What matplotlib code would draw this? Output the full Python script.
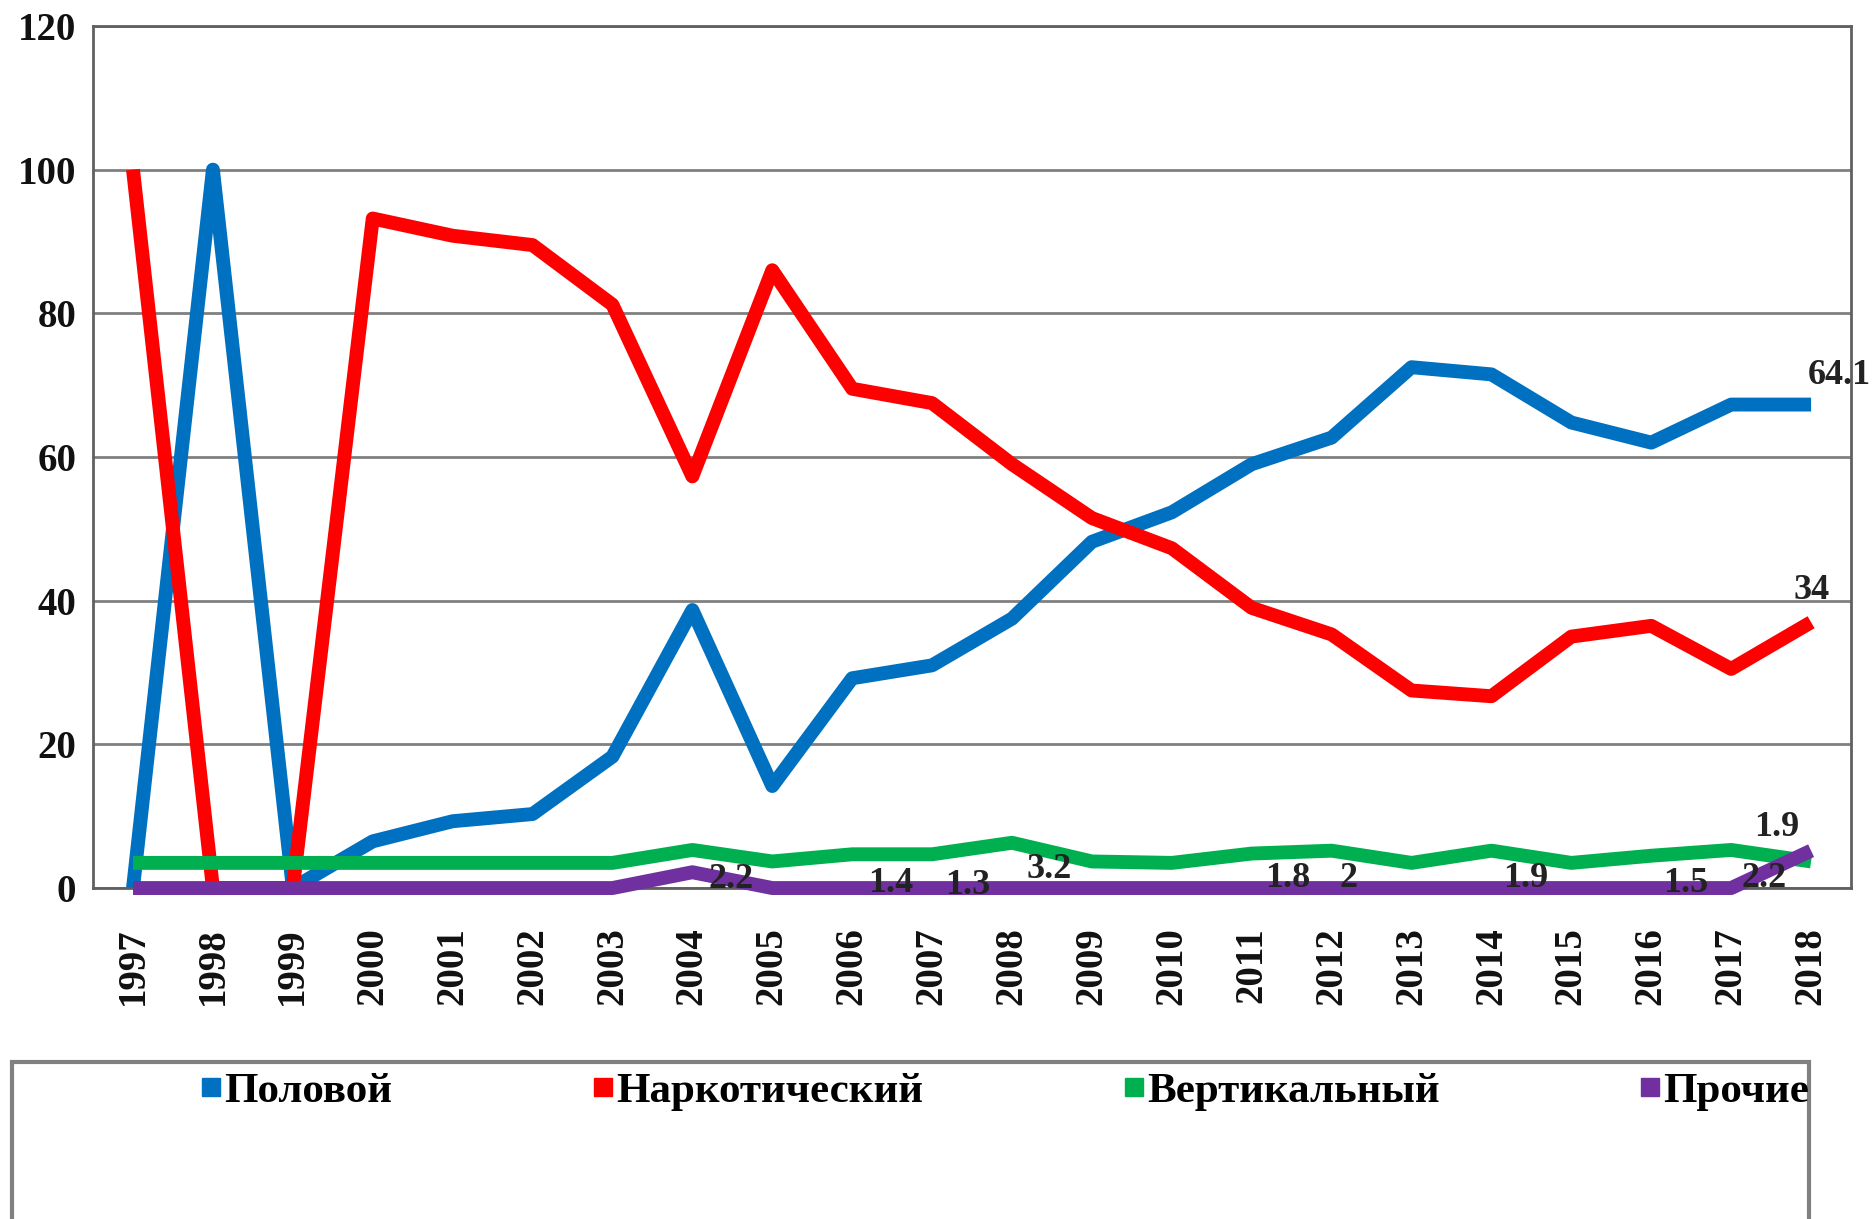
import matplotlib.pyplot as plt
from matplotlib.patches import Rectangle
from matplotlib.lines import Line2D

years = [str(y) for y in range(1997, 2019)]

polovoy = [0, 100, 0, 6.5, 9.3, 10.3, 18.3, 38.7, 14.2, 29.2, 31.0, 37.5,
           48.2, 52.3, 59.0, 62.7, 72.5, 71.5, 64.8, 62.0, 67.3, 67.3]
narko = [100, 0, 0, 93.2, 90.8, 89.5, 81.2, 57.3, 86.0, 69.5, 67.5, 59.0,
         51.5, 47.3, 39.0, 35.3, 27.5, 26.7, 35.0, 36.5, 30.5, 37.0]
vertik = [3.5, 3.5, 3.5, 3.5, 3.5, 3.5, 3.5, 5.3, 3.7, 4.7, 4.7, 6.3,
          3.7, 3.5, 4.8, 5.2, 3.5, 5.2, 3.5, 4.5, 5.3, 3.7]
prochie = [0, 0, 0, 0, 0, 0, 0, 2.2, 0, 0, 0, 0,
           0, 0, 0, 0, 0, 0, 0, 0, 0, 5.2]

series_names = ["Половой", "Наркотический", "Вертикальный", "Прочие"]
series_values = [polovoy, narko, vertik, prochie]
colors = ["#0070C0", "#FF0000", "#00B050", "#7030A0"]

# data labels: (series index, year index, text)
labels = [(3, 7, "2.2"), (3, 9, "1.4"), (3, 10, "1.3"), (3, 11, "3.2"),
          (3, 14, "1.8"), (3, 15, "2"), (3, 17, "1.9"), (3, 19, "1.5"),
          (3, 20, "2.2"), (3, 21, "1.9"), (0, 21, "64.1"), (1, 21, "34")]
# label offsets in points
label_offsets = [(28, -5), (28, 3), (26, 2), (27, 13), (26, 7), (12, 7),
                 (25, 7), (25, 3), (24, 7), (-25, 17), (20, 21), (0, 23)]

plt.rcParams['font.family'] = ['Liberation Serif', 'DejaVu Serif']
plt.rcParams['font.weight'] = 'bold'

fig = plt.figure(figsize=(18.76, 12.19), dpi=100)
ax = fig.add_axes([0.0496, 0.2715, 0.9371, 0.7072])

x = list(range(len(years)))
for name, vals, c in zip(series_names, series_values, colors):
    ax.plot(x, vals, color=c, linewidth=10, label=name,
            solid_joinstyle='round', solid_capstyle='butt',
            clip_on=False, zorder=3)

for (si, yi, txt), (dx, dy) in zip(labels, label_offsets):
    ax.annotate(txt, xy=(yi, series_values[si][yi]), xytext=(dx, dy),
                textcoords='offset points', ha='center', va='center',
                fontsize=26, fontweight='bold', color='#222222', zorder=5)

ax.set_xlim(-0.5, len(years) - 0.5)
ax.set_ylim(0, 120)
ax.set_yticks(range(0, 121, 20))
ax.set_xticks(x)
ax.set_xticklabels(years, rotation=90)
ax.tick_params(axis='both', length=0, labelsize=28, colors='#111111')
ax.tick_params(axis='x', pad=28)
ax.tick_params(axis='y', pad=12)
for lab in ax.get_xticklabels() + ax.get_yticklabels():
    lab.set_fontweight('bold')

ax.grid(axis='y', color='#808080', linewidth=2, zorder=0)
ax.set_axisbelow(True)
for sp in ax.spines.values():
    sp.set_color('#606060')
    sp.set_linewidth(2)

# legend box
fig.patches.append(Rectangle((12 / 1876, -0.02), 1797 / 1876, 0.149,
                             transform=fig.transFigure, facecolor='white',
                             edgecolor='#808080', linewidth=3))
handles = [Line2D([], [], marker='s', linestyle='none', markersize=13,
                  color=c) for c in colors]
fig.legend(handles, series_names, loc='center', ncol=4,
           bbox_to_anchor=(0.535, 0.105), frameon=False,
           prop={'size': 31, 'weight': 'bold'}, handletextpad=0.0,
           columnspacing=4.6, handlelength=0.6)

fig.savefig("out.png", dpi=100)
